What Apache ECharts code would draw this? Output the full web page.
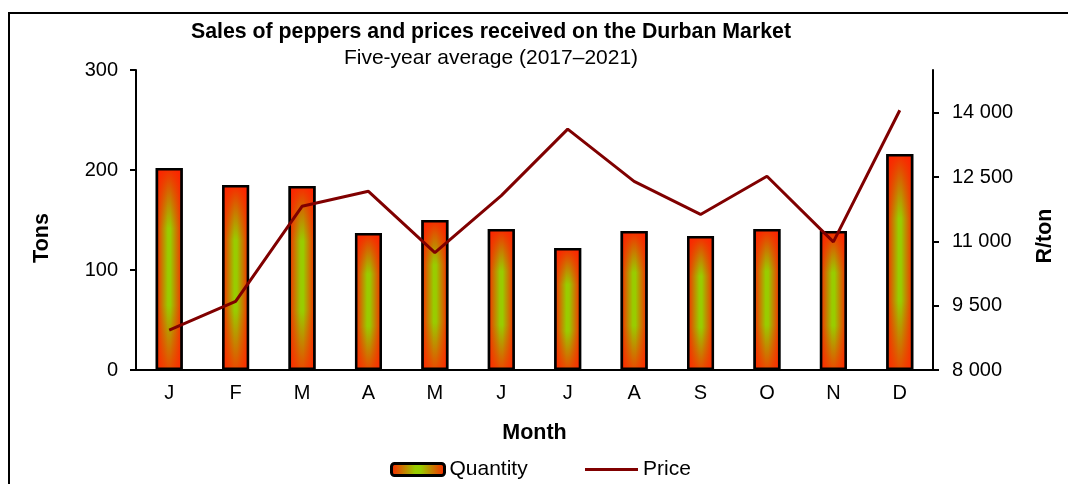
<!DOCTYPE html>
<html>
<head>
<meta charset="utf-8">
<script src="https://cdn.jsdelivr.net/npm/echarts@6/dist/echarts.min.js"></script>
<style>
  html, body { margin: 0; padding: 0; background: #fff; }
  #chart { width: 1068px; height: 484px; }
</style>
</head>
<body>
<div id="chart"></div>
<script>
  // months on the x axis
  var months = ['J', 'F', 'M', 'A', 'M', 'J', 'J', 'A', 'S', 'O', 'N', 'D'];
  // tons sold (left axis)
  var quantity = [202, 185, 184, 137, 150, 141, 122, 139, 134, 141, 139, 216];
  // price in R/ton (right axis)
  var price = [8930, 9600, 11820, 12170, 10740, 12070, 13620, 12400, 11630, 12520, 10990, 14060];
  // tick labels
  var tonTicks = [0, 100, 200, 300];
  var priceTicks = [8000, 9500, 11000, 12500, 14000];

  var font = '"Liberation Sans", Arial, sans-serif';

  function spaced(v) {
    return String(v).replace(/\B(?=(\d{3})+(?!\d))/g, ' ');
  }

  var chart = echarts.init(document.getElementById('chart'));

  var barFill = {
    type: 'linear', x: 0, y: 0, x2: 1, y2: 0,
    colorStops: [
      {offset: 0, color: '#ff2000'},
      {offset: 0.45, color: '#99cc00'},
      {offset: 0.55, color: '#99cc00'},
      {offset: 1, color: '#ff2000'}
    ]
  };
  // darkens the top and bottom of each bar towards red
  var barShade = {
    type: 'linear', x: 0, y: 0, x2: 0, y2: 1,
    colorStops: [
      {offset: 0, color: 'rgba(255,32,0,0.95)'},
      {offset: 0.3, color: 'rgba(255,32,0,0)'},
      {offset: 0.68, color: 'rgba(255,32,0,0)'},
      {offset: 1, color: 'rgba(255,40,0,0.8)'}
    ]
  };

  var nameStyle = {fontFamily: font, fontSize: 21.5, fontWeight: 'bold', color: '#000'};

  var option = {
    backgroundColor: '#fff',
    animation: false,
    textStyle: {fontFamily: font, color: '#000'},
    title: [
      {
        text: 'Sales of peppers and prices received on the Durban Market',
        left: 491, top: 22, textAlign: 'center', padding: 0,
        textStyle: {fontFamily: font, fontSize: 21.3, fontWeight: 'bold', color: '#000'}
      },
      {
        text: 'Five-year average (2017–2021)',
        left: 491, top: 48, textAlign: 'center', padding: 0,
        textStyle: {fontFamily: font, fontSize: 21, fontWeight: 'normal', color: '#000'}
      }
    ],
    graphic: [
      {
        type: 'rect', silent: true,
        shape: {x: 9, y: 13, width: 1100, height: 500},
        style: {fill: 'none', stroke: '#000', lineWidth: 2}
      }
    ],
    legend: [
      {
        data: ['Quantity'],
        left: 390, top: 459, padding: 0,
        itemWidth: 53, itemHeight: 12,
        itemStyle: {borderColor: '#000', borderWidth: 3},
        textStyle: {fontFamily: font, fontSize: 21, color: '#000'}
      },
      {
        data: ['Price'],
        icon: 'rect',
        left: 585, top: 459, padding: 0,
        itemWidth: 53, itemHeight: 3,
        textStyle: {fontFamily: font, fontSize: 21, color: '#000'}
      }
    ],
    grid: {left: 136, right: 135, top: 70, bottom: 114},
    xAxis: {
      type: 'category',
      data: months,
      name: 'Month',
      nameLocation: 'middle',
      nameGap: 52,
      nameTextStyle: nameStyle,
      axisLine: {lineStyle: {color: '#000', width: 2}},
      axisTick: {length: 6, lineStyle: {color: '#000', width: 2}},
      axisLabel: {fontFamily: font, fontSize: 20, color: '#000', margin: 13}
    },
    yAxis: [
      {
        type: 'value',
        min: 0, max: 300, interval: 100,
        name: 'Tons',
        nameLocation: 'middle',
        nameGap: 83,
        nameTextStyle: Object.assign({padding: [0, 36, 0, 0]}, nameStyle),
        splitLine: {show: false},
        axisLine: {show: true, lineStyle: {color: '#000', width: 2}},
        axisTick: {show: true, length: 6, lineStyle: {color: '#000', width: 2}, customValues: tonTicks},
        axisLabel: {fontFamily: font, fontSize: 20, color: '#000', margin: 18, customValues: tonTicks}
      },
      {
        type: 'value',
        min: 8000, max: 15000,
        position: 'right',
        name: 'R/ton',
        nameLocation: 'middle',
        nameGap: 101,
        nameRotate: 90,
        nameTextStyle: Object.assign({padding: [0, 32, 0, 0]}, nameStyle),
        splitLine: {show: false},
        axisLine: {show: true, lineStyle: {color: '#000', width: 2}},
        axisTick: {show: true, length: 6, lineStyle: {color: '#000', width: 2}, customValues: priceTicks},
        axisLabel: {fontFamily: font, fontSize: 20, color: '#000', margin: 19, customValues: priceTicks,
          formatter: spaced}
      }
    ],
    series: [
      {
        name: 'Quantity',
        type: 'bar',
        data: quantity,
        barWidth: 27,
        itemStyle: {color: barFill, borderColor: '#000', borderWidth: 2}
      },
      {
        name: 'shade',
        type: 'bar',
        data: quantity,
        barWidth: 27,
        barGap: '-100%',
        silent: true,
        itemStyle: {color: barShade, borderColor: '#000', borderWidth: 2.5}
      },
      {
        name: 'Price',
        type: 'line',
        yAxisIndex: 1,
        data: price,
        symbol: 'none',
        z: 5,
        itemStyle: {color: '#800000'},
        lineStyle: {color: '#800000', width: 3}
      }
    ]
  };

  chart.setOption(option);
</script>
</body>
</html>
